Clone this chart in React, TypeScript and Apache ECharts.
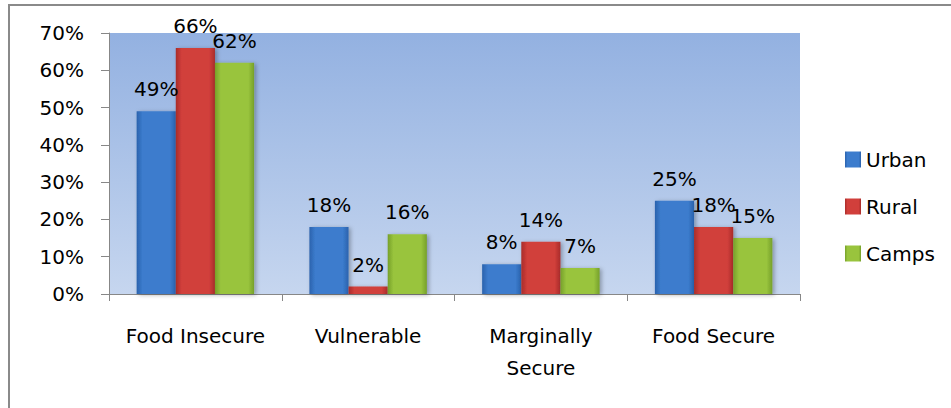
import React, { useEffect, useRef } from "react";
import * as echarts from "echarts";

const categories = ["Food Insecure", "Vulnerable", "Marginally\nSecure", "Food Secure"];
const seriesNames = ["Urban", "Rural", "Camps"];
const urban = [49, 18, 8, 25];
const rural = [66, 2, 14, 18];
const camps = [62, 16, 7, 15];

const FONT = "DejaVu Sans";

function barGrad(dark: string, mid: string) {
  return new echarts.graphic.LinearGradient(0, 0, 1, 0, [
    { offset: 0, color: dark },
    { offset: 0.15, color: mid },
    { offset: 0.85, color: mid },
    { offset: 1, color: dark },
  ]);
}

export default function App() {
  const ref = useRef<HTMLDivElement>(null);
  useEffect(() => {
    if (!ref.current) return;
    const chart = echarts.init(ref.current, undefined, { renderer: "svg" });
    const colors = [
      ["#2a62ad", "#3c7ccd"],
      ["#a92c2a", "#d13f3b"],
      ["#76a02a", "#99c43d"],
    ];
    const datas = [urban, rural, camps];
    chart.setOption({
      animation: false,
      backgroundColor: "#ffffff",
      textStyle: { fontFamily: FONT },
      graphic: [
        {
          type: "rect",
          shape: { x: 9, y: 5, width: 1200, height: 600 },
          style: { fill: "none", stroke: "#8a8a8a", lineWidth: 2 },
          silent: true,
        },
      ],
      legend: {
        orient: "vertical",
        left: 840,
        top: 143,
        itemWidth: 16,
        itemHeight: 16,
        itemGap: 24,
        icon: "rect",
        textStyle: { fontFamily: FONT, fontSize: 20, color: "#000", lineHeight: 23 },
        data: seriesNames,
      },
      grid: {
        left: 109,
        top: 33,
        right: 151,
        bottom: 114,
        show: true,
        borderWidth: 0,
        backgroundColor: new echarts.graphic.LinearGradient(0, 0, 0, 1, [
          { offset: 0, color: "#93b1e1" },
          { offset: 1, color: "#c6d6ef" },
        ]),
      },
      xAxis: {
        type: "category",
        data: categories,
        axisLine: { show: true, lineStyle: { color: "#878787", width: 1 } },
        axisTick: { show: true, length: 7, lineStyle: { color: "#878787" } },
        axisLabel: {
          fontFamily: FONT,
          fontSize: 20,
          color: "#000",
          margin: 26,
          lineHeight: 32,
          interval: 0,
        },
      },
      yAxis: {
        type: "value",
        min: 0,
        max: 70,
        interval: 10,
        splitLine: { show: false },
        axisLine: { show: true, lineStyle: { color: "#878787", width: 1 } },
        axisTick: { show: true, length: 8, lineStyle: { color: "#878787" } },
        axisLabel: {
          fontFamily: FONT,
          fontSize: 20,
          color: "#000",
          margin: 25,
          formatter: "{value}%",
        },
      },
      series: seriesNames.map((name, i) => ({
        name,
        type: "bar",
        data: datas[i],
        barGap: "0%",
        barCategoryGap: "32%",
        itemStyle: {
          color: barGrad(colors[i][0], colors[i][1]),
          shadowColor: "rgba(0,0,0,0.3)",
          shadowBlur: 4,
          shadowOffsetX: 2,
          shadowOffsetY: 1,
        },
        label: {
          show: true,
          position: "top",
          distance: 12,
          fontFamily: FONT,
          fontSize: 20,
          color: "#000",
          formatter: "{c}%",
        },
      })),
      color: ["#3c7ccd", "#d13f3b", "#99c43d"],
    });
    return () => chart.dispose();
  }, []);
  return (
    <div
      ref={ref}
      style={{ position: "absolute", left: 0, top: 0, width: 951, height: 408 }}
    />
  );
}
